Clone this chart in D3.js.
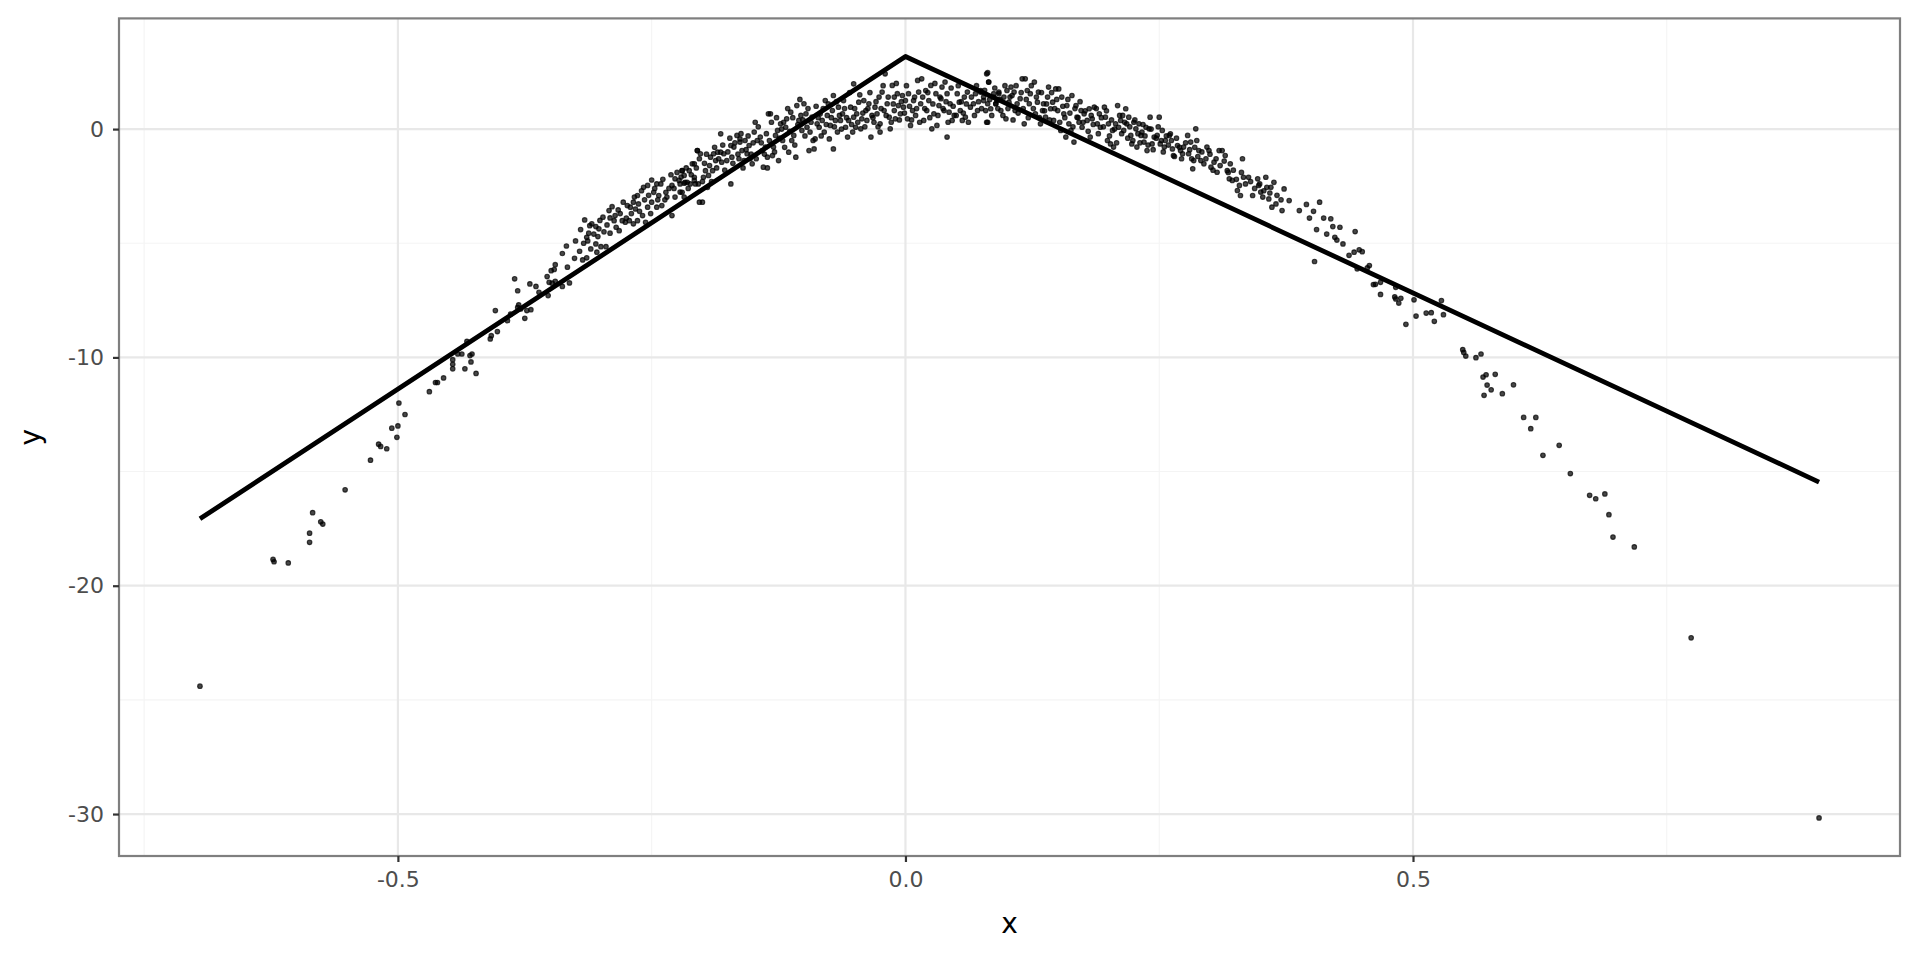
<!DOCTYPE html>
<html><head><meta charset="utf-8">
<script src="https://cdn.jsdelivr.net/npm/d3@7"></script>
<style>body{margin:0;background:#fff}svg{display:block}</style>
</head><body><svg id="chart" width="1920" height="960"></svg>
<script>
// ---- data ----
const points = [
[-0.695,-24.4],
[-0.623,-18.85],[-0.622,-18.95],[-0.608,-19.0],[-0.587,-18.1],[-0.587,-17.7],[-0.584,-16.8],[-0.576,-17.2],[-0.574,-17.3],[-0.552,-15.8],[-0.527,-14.5],[-0.519,-13.8],[-0.517,-13.9],[-0.511,-14.0],[-0.506,-13.1],[-0.500,-13.0],[-0.501,-13.5],[-0.499,-12.0],[-0.493,-12.5],[-0.469,-11.5],[-0.463,-11.1],[-0.461,-11.1],[-0.455,-10.9],[-0.446,-10.5],[-0.446,-10.3],[-0.446,-10.1],[-0.434,-10.5],[-0.423,-10.7],[-0.428,-10.2],
[-0.441,-9.85],[-0.437,-9.85],[-0.429,-9.92],[-0.427,-9.85],[-0.432,-9.30],[-0.409,-9.19],[-0.408,-9.05],[-0.402,-8.87],[-0.404,-7.95],[-0.392,-8.39],[-0.389,-8.10],[-0.382,-7.81],[-0.381,-7.70],[-0.379,-7.88],[-0.375,-8.29],[-0.373,-7.95],[-0.369,-7.91],[-0.385,-6.56],[-0.382,-7.08],[-0.370,-6.78],[-0.364,-6.89],[-0.361,-7.15],[-0.353,-6.46],[-0.351,-6.71],[-0.348,-6.75],[-0.345,-6.67],[-0.349,-6.20],[-0.345,-5.94],[-0.346,-6.15],[-0.352,-7.29],[-0.338,-6.89],[-0.331,-6.74],[-0.338,-5.45],[-0.334,-5.12],[-0.333,-6.05],[-0.326,-5.66],[-0.321,-5.35],[-0.318,-5.73],[-0.314,-5.64],[-0.316,-3.98],[-0.314,-4.74],[-0.312,-4.56],[-0.311,-4.23],[-0.309,-4.15],[-0.305,-4.27],[-0.302,-4.37],[-0.303,-4.71],[-0.305,-5.03],[-0.310,-5.25],[-0.304,-5.39],[-0.300,-5.15],[-0.295,-5.15],[-0.298,-3.86],[-0.292,-3.57],[-0.291,-3.89],[-0.287,-4.01],[-0.283,-3.54],[-0.286,-3.79],[-0.291,-4.56],[-0.282,-4.45],[-0.279,-4.01],[-0.276,-4.08],[-0.272,-4.01],[-0.274,-3.35],[-0.271,-3.42],[-0.266,-3.50],[-0.267,-2.98],[-0.264,-2.91],[-0.263,-3.28],[-0.259,-3.79],
[-0.258,-2.55],[-0.254,-2.47],[-0.250,-2.23],[-0.245,-2.40],[-0.241,-2.40],[-0.248,-2.77],[-0.243,-2.91],[-0.250,-3.20],[-0.245,-3.42],[-0.240,-3.35],[-0.236,-2.77],[-0.235,-2.98],[-0.230,-2.47],[-0.227,-2.18],[-0.223,-2.25],[-0.220,-1.82],[-0.222,-2.40],[-0.218,-2.37],[-0.215,-2.33],[-0.210,-1.52],[-0.208,-2.25],[-0.205,-0.94],[-0.204,-2.40],[-0.203,-3.20],[-0.230,-3.79],[-0.227,-2.98],[-0.220,-2.77],[-0.254,-3.42],[-0.256,-4.08],[-0.264,-4.01],[-0.268,-4.15],
[-0.220,-1.82],[-0.218,-2.03],[-0.213,-1.82],[-0.208,-1.52],[-0.217,-2.33],[-0.212,-2.40],[-0.207,-2.40],[-0.205,-0.94],[-0.202,-1.08],[-0.197,-1.82],[-0.194,-2.03],[-0.190,-1.82],[-0.187,-1.38],[-0.185,-1.01],[-0.182,-1.01],[-0.192,-1.23],[-0.195,-2.55],[-0.200,-3.20],[-0.222,-2.76],[-0.218,-2.98],[-0.208,-2.11],[-0.199,-2.11],[-0.189,-1.08],[-0.179,-1.08],[-0.181,-1.45],[-0.172,-2.40],[-0.182,-0.21],[-0.172,-0.72],[-0.176,-1.38],[-0.169,-0.79],[-0.171,-1.23],[-0.166,-0.28],[-0.163,-0.57],[-0.161,-0.94],[-0.164,-1.30],[-0.159,-1.38],[-0.156,-1.08],[-0.153,-1.30],[-0.154,-0.72],[-0.151,-1.52],[-0.163,-0.43],[-0.158,-0.50],[-0.149,-0.13],[-0.148,0.30],[-0.146,-0.50],[-0.143,-0.35],[-0.141,-0.94],[-0.138,-0.79],[-0.140,-1.67],[-0.136,-1.70],[-0.135,0.67],[-0.133,0.67],[-0.136,-1.23],[-0.131,-1.16],[-0.130,-0.79],[-0.128,-0.28],[-0.126,-0.06],[-0.123,0.23],[-0.125,-1.38],[-0.121,-0.50],[-0.118,0.08],[-0.120,0.30],[-0.117,0.45],[-0.115,-1.01],[-0.113,0.74],[-0.112,-0.50],[-0.110,-0.28],[-0.108,-1.23],[-0.107,1.03],[-0.105,0.38],[-0.103,0.60],[-0.102,-0.06],[-0.100,1.11],[-0.098,0.67],[-0.097,0.08],[-0.095,-0.94],[-0.094,-0.13],[-0.092,0.52],[-0.090,-0.87],[-0.089,-0.43],[-0.087,0.23],[-0.085,0.08],[-0.084,0.67],[-0.082,0.38],[-0.080,-0.13],[-0.079,1.25],[-0.077,0.60],[-0.075,-0.43],[-0.074,0.16],[-0.072,0.81],[-0.071,1.47],[-0.071,-0.87],[-0.069,0.38],[-0.067,-0.13],[-0.066,0.96],[-0.064,0.38],[-0.062,0.67],[-0.061,1.25],[-0.059,0.08],[-0.057,-0.35],[-0.056,0.38],[-0.054,0.96],[-0.052,-0.13],[-0.051,1.98],[-0.051,0.52],[-0.049,0.08],[-0.048,0.67],[-0.046,1.18],[-0.044,0.01],[-0.043,0.45],[-0.041,1.25],[-0.039,0.81],[-0.038,0.38],[-0.036,1.11],[-0.034,-0.35],[-0.033,0.60],[-0.031,0.30],[-0.030,0.96],[-0.028,0.67],[-0.026,1.40],[-0.025,0.23],[-0.025,-0.13],[-0.023,1.62],[-0.021,0.81],[-0.020,2.42],[-0.018,1.11],[-0.016,0.52],[-0.015,0.01],[-0.013,1.91],[-0.011,1.40],[-0.011,0.81],[-0.010,0.45],[-0.008,1.55],[-0.007,1.03],[-0.005,0.67],[-0.003,1.47],[-0.002,0.96],[0.000,1.25],[0.002,0.45],[0.005,0.16],[0.003,1.55],[0.007,0.81],[0.008,1.25],[0.010,0.60],[0.012,2.13],[0.013,1.62],[0.015,1.11],[0.016,2.20],[0.018,0.38],[0.020,1.69],[0.021,0.81],[0.023,1.25],[0.025,1.91],[0.026,0.01],[0.028,0.67],[0.030,1.55],[0.031,0.16],[0.033,1.03],[0.035,1.33],[0.036,1.84],[0.038,0.81],[0.039,2.06],[0.041,-0.35],[0.041,1.55],[0.043,0.74],[0.044,1.11],[0.046,0.38],[0.048,0.60],[0.051,1.55],[0.053,1.18],[0.054,0.81],[0.056,0.38],[0.058,1.40],[0.059,0.52],[0.061,1.62],[0.064,0.96],[0.067,1.11],[0.069,1.55],[0.071,0.81],[0.074,1.62],[0.077,1.25],[0.080,2.42],[0.082,2.06],[0.080,0.30],[0.084,0.89],[0.087,1.40],[0.089,1.11],[0.090,1.25],[0.092,1.55],
[0.081,2.47],[0.082,2.06],[0.074,1.69],[0.077,1.40],[0.081,1.11],[0.079,0.81],[0.081,0.30],[0.087,1.55],[0.089,1.11],[0.092,1.62],[0.094,0.81],[0.097,1.40],[0.099,0.45],[0.100,1.69],[0.102,1.18],[0.104,1.84],[0.105,1.47],[0.107,1.62],[0.108,0.81],[0.110,1.11],[0.113,1.33],[0.115,2.20],[0.118,2.20],[0.117,0.23],[0.120,1.69],[0.122,1.11],[0.123,1.55],[0.127,2.06],[0.128,0.67],[0.130,1.18],[0.131,1.62],[0.133,0.23],[0.135,0.81],[0.136,1.11],[0.138,0.52],[0.140,1.40],[0.141,1.84],[0.143,0.89],[0.145,1.18],[0.146,0.38],[0.148,1.76],[0.150,0.81],[0.151,1.76],[0.153,-0.06],[0.154,1.40],[0.156,0.67],[0.158,-0.35],[0.159,1.03],[0.161,0.23],[0.163,-0.06],[0.164,1.47],[0.166,-0.57],[0.168,1.03],[0.169,0.52],[0.171,0.30],[0.173,0.81],[0.174,0.08],[0.176,0.67],[0.179,0.38],[0.181,0.89],[0.182,-0.35],[0.184,0.45],[0.186,0.96],[0.189,0.23],[0.191,0.67],[0.192,0.08],[0.196,0.96],[0.197,0.52],[0.199,-0.50],[0.200,0.23],[0.202,-0.65],[0.204,-0.06],[0.205,-0.79],[0.207,0.23],[0.209,1.03],[0.210,0.08],[0.212,0.38],[0.214,0.60],[0.215,-0.06],[0.217,0.89],[0.218,0.23],[0.220,0.52],[0.222,-0.28],[0.223,-0.65],[0.225,0.30],[0.227,0.01],[0.228,-0.79],[0.230,0.23],[0.232,-0.28],[0.233,-0.13],[0.235,-0.57],[0.237,0.08],[0.238,-0.94],[0.240,0.01],[0.241,0.52],[0.243,-0.65],[0.245,-0.35],[0.248,-0.28],[0.250,0.52],[0.251,-0.65],[0.253,-0.06],[0.255,-0.79],[0.256,-0.50],[0.260,-0.28],[0.261,-0.21],[0.263,-0.87],[0.264,-1.16],[0.268,-0.72],[0.271,-0.94],[0.273,-1.08],[0.274,-0.79],[0.278,-0.28],[0.279,-1.08],[0.281,-0.57],[0.283,-1.74],[0.284,-1.38],[0.286,0.01],[0.287,-0.50],[0.289,-0.94],[0.291,-1.38],[0.294,-1.52],[0.297,-0.79],[0.299,-0.94],[0.301,-1.67],[0.304,-1.45],[0.307,-1.89],[0.309,-0.94],[0.312,-0.94],[0.315,-1.16],[0.317,-1.82],[0.319,-2.18],[0.320,-1.52],[0.322,-2.25],[0.327,-2.69],[0.329,-2.47],[0.330,-2.91],[0.332,-1.30],[0.333,-2.11],[0.338,-2.11],[0.342,-2.91],[0.347,-2.18],[0.348,-2.47],[0.350,-2.76],[0.352,-2.98],[0.355,-2.11],[0.356,-2.55],[0.358,-3.06],[0.360,-2.55],[0.361,-3.42],[0.363,-2.33],[0.365,-3.28],[0.371,-3.57],[0.373,-2.62],[0.378,-3.13],[0.388,-3.57],
[0.395,-3.3],[0.398,-3.9],[0.402,-3.6],[0.405,-4.4],[0.408,-3.2],[0.412,-3.9],[0.415,-4.6],[0.403,-5.8],
[0.419,-3.93],[0.421,-4.27],[0.428,-4.30],[0.443,-4.49],[0.423,-4.74],[0.425,-4.86],[0.431,-5.03],[0.437,-5.53],[0.442,-5.39],[0.447,-5.29],[0.450,-5.37],[0.445,-6.12],[0.457,-5.98],[0.455,-6.08],[0.461,-6.81],[0.463,-6.80],[0.468,-6.71],[0.468,-7.24],[0.483,-6.93],[0.482,-7.35],[0.483,-7.44],[0.488,-7.41],[0.486,-7.62],[0.501,-7.48],[0.493,-8.55],[0.503,-8.19],[0.513,-8.06],[0.518,-8.04],[0.521,-8.42],[0.528,-7.51],[0.530,-8.13],[0.549,-9.66],[0.550,-9.78],[0.552,-9.94],[0.562,-10.01],[0.567,-9.85],[0.569,-10.86],[0.572,-10.76],[0.581,-10.74],[0.573,-11.21],[0.577,-11.42],[0.570,-11.66],[0.588,-11.59],[0.599,-11.20],[0.609,-12.63],[0.621,-12.63],
[0.616,-13.12],[0.644,-13.85],[0.628,-14.29],[0.655,-15.09],[0.674,-16.04],[0.680,-16.19],[0.689,-15.98],[0.693,-16.89],[0.697,-17.87],[0.718,-18.30],[0.774,-22.28],[0.900,-30.17],
[-0.325,-4.9],[-0.320,-4.4],[-0.317,-5.0],[-0.313,-4.9],[-0.307,-4.6],[-0.301,-4.0],[-0.297,-4.5],[-0.294,-4.2],[-0.289,-3.4],[-0.285,-4.3],[-0.281,-3.7],[-0.278,-3.2],[-0.275,-3.9],[-0.270,-3.7],[-0.268,-3.2],[-0.262,-3.6],[-0.260,-2.7],[-0.257,-3.1],[-0.253,-2.9],[-0.251,-3.7],[-0.247,-2.6],[-0.244,-3.1],[-0.239,-2.2],[-0.237,-3.1],[-0.233,-2.6],[-0.231,-2.0],[-0.228,-2.6],[-0.225,-1.9],[-0.221,-2.1],[-0.216,-1.7],[-0.214,-2.6],[-0.211,-2.0],[-0.206,-1.7],[-0.203,-1.3],[-0.200,-2.3],[-0.198,-1.5],[-0.196,-1.1],[-0.193,-1.6],[-0.191,-2.3],[-0.188,-0.8],[-0.186,-1.7],[-0.184,-1.3],[-0.180,-0.7],[-0.178,-1.8],[-0.175,-1.0],[-0.173,-0.4],[-0.170,-1.5],[-0.168,-0.6],[-0.165,-1.1],[-0.162,-0.2],[-0.160,-1.7],[-0.157,-0.9],[-0.155,-0.3],[-0.152,-1.1],[-0.150,-0.6],[-0.147,-1.3],[-0.145,0.1],[-0.142,-0.6],[-0.139,-1.1],[-0.137,-0.2],[-0.134,-0.5],[-0.132,0.3],[-0.129,-1.0],[-0.127,0.5],[-0.124,-0.4],[-0.122,0.0],[-0.119,-0.8],[-0.116,0.9],[-0.114,-0.1],[-0.111,0.5],[-0.109,-0.7],[-0.106,0.2],[-0.104,1.3],[-0.101,0.4],[-0.099,-0.3],[-0.096,0.9],[-0.093,0.3],[-0.091,-0.5],[-0.088,1.0],[-0.086,0.5],[-0.083,-0.3],[-0.081,0.9],[-0.078,0.2],[-0.076,1.1],[-0.073,0.5],[-0.070,0.1],[-0.068,1.2],[-0.065,0.6],[-0.063,0.0],[-0.060,0.9],[-0.058,0.5],[-0.055,1.6],[-0.053,0.2],[-0.050,0.9],[-0.047,0.3],[-0.045,1.5],[-0.042,0.7],[-0.040,0.1],[-0.037,0.9],[-0.035,1.6],[-0.032,0.5],[-0.029,1.2],[-0.027,0.1],[-0.024,0.9],[-0.022,1.9],[-0.019,0.6],[-0.017,1.4],[-0.014,0.3],[-0.012,1.1],[-0.009,2.0],[-0.006,0.4],[-0.004,1.2],[-0.001,0.7],[0.001,1.9],[0.004,1.0],[0.006,0.4],[0.009,1.4],[0.011,0.9],[0.014,0.3],[0.017,1.4],[0.019,0.9],[0.022,1.6],[0.024,0.5],[0.027,1.1],[0.029,2.0],[0.032,0.6],[0.034,1.4],[0.037,0.9],[0.040,1.2],[0.042,0.3],[0.045,1.8],[0.047,1.0],[0.050,0.6],[0.052,1.9],[0.055,1.2],[0.057,0.7],[0.060,1.1],[0.062,0.3],[0.065,1.4],[0.068,0.6],[0.070,1.9],[0.072,1.2],[0.075,0.9],[0.078,1.7],[0.083,1.3],[0.085,0.6],[0.088,1.8],[0.091,0.9],[0.093,1.3],[0.096,0.6],[0.098,1.9],[0.101,0.9],[0.103,1.4],[0.106,0.4],[0.109,1.9],[0.111,0.7],[0.114,1.6],[0.116,0.9],[0.119,1.3],[0.121,0.5],[0.124,1.9],[0.126,0.9],[0.129,1.4],[0.132,0.5],[0.134,1.6],[0.137,0.8],[0.139,1.1],[0.142,0.4],[0.144,1.6],[0.147,0.9],[0.149,1.3],[0.152,0.3],[0.155,1.0],[0.157,0.5],[0.160,1.3],[0.162,0.7],[0.165,0.1],[0.167,0.9],[0.170,0.5],[0.172,1.2],[0.175,0.3],[0.177,0.8],[0.180,-0.1],[0.183,0.6],[0.185,0.2],[0.188,0.9],[0.190,-0.2],[0.193,0.5],[0.195,0.1],[0.198,0.8],[0.201,-0.3],[0.203,0.4],[0.206,0.0],[0.208,-0.6],[0.211,0.6],[0.213,-0.2],[0.216,0.3],[0.219,-0.4],[0.221,0.1],[0.224,-0.5],[0.226,0.4],[0.229,-0.2],[0.231,-0.6],[0.234,0.2],[0.236,-0.3],[0.239,-0.7],[0.242,0.0],[0.244,-0.9],[0.247,-0.4],[0.249,0.1],[0.252,-0.5],[0.254,-1.0],[0.257,-0.3],[0.259,-0.7],[0.262,-0.5],[0.265,-1.2],[0.267,-0.4],[0.270,-0.8],[0.272,-1.3],[0.276,-0.6],[0.280,-0.9],[0.282,-1.3],[0.285,-0.8],[0.288,-1.2],[0.292,-1.0],[0.296,-1.3],[0.300,-1.1],[0.303,-1.8],[0.306,-1.3],[0.310,-1.6],[0.314,-1.4],[0.318,-1.9],[0.323,-1.8],[0.326,-2.2],[0.331,-1.9],[0.335,-2.4],[0.340,-2.3],[0.344,-2.6],[0.349,-2.4],[0.353,-2.7],[0.359,-2.8],[0.366,-2.9],[0.370,-3.1]
];
const lineX = [-0.695, 0.0, 0.900];
const lineY = [-17.07, 3.18, -15.46];
const xTicks = [-0.5, 0.0, 0.5];
const xMinorTicks = [-0.75, -0.25, 0.25, 0.75];
const yTicks = [-30, -20, -10, 0];
const yMinorTicks = [-25, -15, -5];
const xTitle = "x";
const yTitle = "y";

// ---- layout ----
const W = 1920, H = 960;
const P = {left: 119, right: 1900, top: 18.4, bottom: 856};
const svg = d3.select("#chart");
const FONT = "'DejaVu Sans', 'Liberation Sans', sans-serif";

function expand(ext, f) { const d = (ext[1] - ext[0]) * f; return [ext[0] - d, ext[1] + d]; }
const xExt = d3.extent(points.map(p => p[0]).concat(lineX));
const yExt = d3.extent(points.map(p => p[1]).concat(lineY));
const x = d3.scaleLinear().domain(expand(xExt, 0.05)).range([P.left, P.right]);
const y = d3.scaleLinear().domain(expand(yExt, 0.05)).range([P.bottom, P.top]);

svg.append("rect").attr("width", W).attr("height", H).attr("fill", "#fff");

// grid
const grid = svg.append("g");
grid.selectAll(".xmin").data(xMinorTicks).join("line")
  .attr("x1", d => x(d)).attr("x2", d => x(d)).attr("y1", P.top).attr("y2", P.bottom)
  .attr("stroke", "#f4f4f4").attr("stroke-width", 1.1);
grid.selectAll(".ymin").data(yMinorTicks).join("line")
  .attr("y1", d => y(d)).attr("y2", d => y(d)).attr("x1", P.left).attr("x2", P.right)
  .attr("stroke", "#f4f4f4").attr("stroke-width", 1.1);
grid.selectAll(".xmaj").data(xTicks).join("line")
  .attr("x1", d => x(d)).attr("x2", d => x(d)).attr("y1", P.top).attr("y2", P.bottom)
  .attr("stroke", "#e8e8e8").attr("stroke-width", 2.2);
grid.selectAll(".ymaj").data(yTicks).join("line")
  .attr("y1", d => y(d)).attr("y2", d => y(d)).attr("x1", P.left).attr("x2", P.right)
  .attr("stroke", "#e8e8e8").attr("stroke-width", 2.2);

// points
svg.append("g").selectAll("circle").data(points).join("circle")
  .attr("cx", d => x(d[0])).attr("cy", d => y(d[1])).attr("r", 2.3)
  .attr("fill", "#000").attr("fill-opacity", 0.72)
  .attr("stroke", "#000").attr("stroke-opacity", 0.72).attr("stroke-width", 1.1);

// fitted line
const lineData = lineX.map((v, i) => [v, lineY[i]]);
svg.append("path").datum(lineData)
  .attr("d", d3.line().x(d => x(d[0])).y(d => y(d[1])))
  .attr("fill", "none").attr("stroke", "#000").attr("stroke-width", 4.8)
  .attr("stroke-linejoin", "round");

// panel border
svg.append("rect").attr("x", P.left).attr("y", P.top)
  .attr("width", P.right - P.left).attr("height", P.bottom - P.top)
  .attr("fill", "none").attr("stroke", "#7f7f7f").attr("stroke-width", 2.2);

// axes
const xAxis = svg.append("g").attr("transform", `translate(0,${P.bottom})`)
  .call(d3.axisBottom(x).tickValues(xTicks).tickFormat(d => d.toFixed(1)).tickSize(6).tickPadding(9.5));
const yAxis = svg.append("g").attr("transform", `translate(${P.left},0)`)
  .call(d3.axisLeft(y).tickValues(yTicks).tickFormat(d => String(d)).tickSize(6).tickPadding(9));
[xAxis, yAxis].forEach(a => {
  a.select(".domain").remove();
  a.selectAll(".tick line").attr("stroke", "#333").attr("stroke-width", 2.2);
  a.selectAll(".tick text").attr("fill", "#4d4d4d").style("font-family", FONT).style("font-size", "22px");
});

svg.append("text").attr("x", (P.left + P.right) / 2).attr("y", 933)
  .attr("text-anchor", "middle").style("font-family", FONT).style("font-size", "28px")
  .attr("fill", "#000").text(xTitle);
svg.append("text").attr("transform", `translate(40,${(P.top + P.bottom) / 2}) rotate(-90)`)
  .attr("text-anchor", "middle").style("font-family", FONT).style("font-size", "28px")
  .attr("fill", "#000").text(yTitle);
</script>
</body></html>
